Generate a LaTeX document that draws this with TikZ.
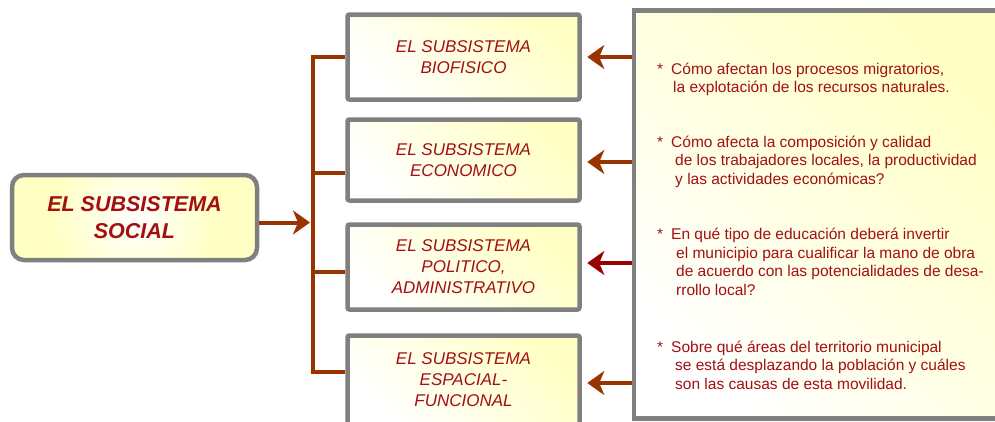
\documentclass[tikz,border=0pt]{standalone}
\usepackage{fontspec}
\setmainfont{Liberation Sans}
\usetikzlibrary{arrows.meta, positioning, calc}

\definecolor{brn}{HTML}{993300}
\definecolor{drkred}{HTML}{990000}
\definecolor{txtred}{HTML}{A30F12}
\definecolor{frame}{HTML}{808080}
\definecolor{ylw}{HTML}{FFFFC4}

\begin{document}
\begin{tikzpicture}[x=1pt, y=-1pt, >={Stealth[length=17pt,width=24pt,inset=5pt]},
    box/.style={draw=frame, line width=4.5pt, rounded corners=2pt, minimum width=232pt, inner sep=0pt,
        align=center, text=txtred, font=\itshape\fontsize{17}{21}\selectfont,
        bottom color=white, top color=ylw, shading angle=-45},
    conn/.style={draw=brn, line width=4pt},
    ask/.style={anchor=north west, align=left, inner sep=0pt, text=txtred,
        font=\fontsize{15.5}{18.5}\selectfont}]
    \clip (0,0) rectangle (995,421);

    % the four subsystems
    \node[box, minimum height=85pt] (sbio) at (463.5,57) {EL SUBSISTEMA\\BIOFISICO};
    \node[box, minimum height=81pt] (seco) at (463.5,160) {EL SUBSISTEMA\\ECONOMICO};
    \node[box, minimum height=85pt] (spol) at (463.5,267) {EL SUBSISTEMA\\POLITICO,\\ADMINISTRATIVO};
    \node[box, minimum height=89pt] (sesp) at (463.5,380) {EL SUBSISTEMA\\ESPACIAL-\\FUNCIONAL};

    \node[box, rounded corners=12pt, inner color=white, outer color=ylw, minimum width=245pt,
        minimum height=85pt, font=\bfseries\itshape\fontsize{21.5}{27}\selectfont] (social) at (134.5,217.5) {EL SUBSISTEMA\\SOCIAL};

    \node[box, rounded corners=0pt, minimum width=376pt, minimum height=408pt] (panel) at (822,214.5) {};

    % bracket
    \coordinate (bar) at (313,222.5);
    \draw[conn] (sbio.west) -| (bar) |- ([yshift=8pt]sesp.west);
    \draw[conn] ([yshift=-13pt]seco.west) -| (bar);
    \draw[conn] ([yshift=-5pt]spol.west) -| (bar);
    \draw[conn, ->, shorten >=3pt] ([yshift=-5pt]social.east) -- (bar);

    % arrows from the questions
    \draw[conn, ->, shorten >=5.5pt] (panel.west |- sbio) -- (sbio.east);
    \draw[conn, ->, shorten >=5.5pt] ([yshift=-2pt]panel.west |- seco) -- ([yshift=-2pt]seco.east);
    \draw[conn, draw=drkred, ->, shorten >=5.5pt] ([yshift=4pt]panel.west |- spol) -- ([yshift=4pt]spol.east);
    \draw[conn, ->, shorten >=5.5pt] ([yshift=-3pt]panel.west |- sesp) -- ([yshift=-3pt]sesp.east);

    % questions
    \node[ask] (q1) at (657,62.5) {\makebox[14pt][l]{*}Cómo afectan los procesos migratorios,\\
        \hspace*{16pt}la explotación de los recursos naturales.};
    \node[ask] (q2) at (657,135.5) {\makebox[14pt][l]{*}Cómo afecta la composición y calidad\\
        \hspace*{18pt}de los trabajadores locales, la productividad\\
        \hspace*{18pt}y las actividades económicas?};
    \node[ask] (q3) at (657,228) {\makebox[14pt][l]{*}En qué tipo de educación deberá invertir\\
        \hspace*{19pt}el municipio para cualificar la mano de obra\\
        \hspace*{19pt}de acuerdo con las potencialidades de desa-\\
        \hspace*{19pt}rrollo local?};
    \node[ask] (q4) at (657,340.5) {\makebox[14pt][l]{*}Sobre qué áreas del territorio municipal\\
        \hspace*{18pt}se está desplazando la población y cuáles\\
        \hspace*{18pt}son las causas de esta movilidad.};
\end{tikzpicture}
\end{document}
